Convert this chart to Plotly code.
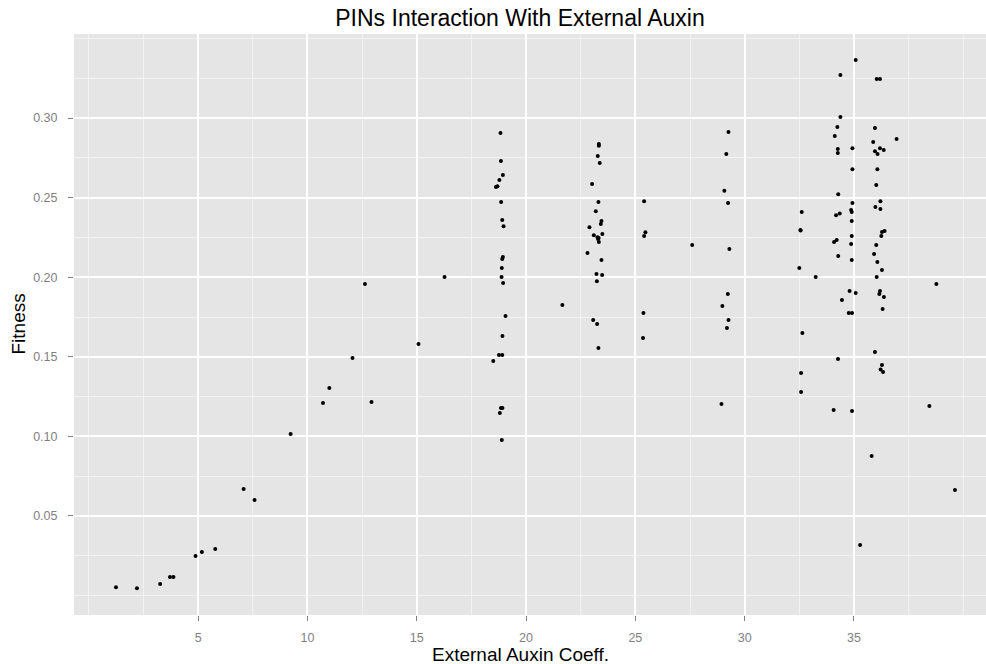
import plotly.graph_objects as go

title_text = "PINs Interaction With External Auxin"
x_title = "External Auxin Coeff."
y_title = "Fitness"

x_ticks = [5, 10, 15, 20, 25, 30, 35]
y_ticks = [0.05, 0.10, 0.15, 0.20, 0.25, 0.30]
y_tick_labels = ["0.05", "0.10", "0.15", "0.20", "0.25", "0.30"]

coeff = [
    1.24, 2.20, 3.26, 3.71, 3.87, 4.88, 5.17, 5.78, 7.08, 7.58, 9.23, 10.71, 11.0, 12.93,
    12.63, 16.27, 21.66, 15.08, 12.06,
    18.83, 18.85, 18.94, 18.78, 18.62, 18.69, 18.86, 18.91, 18.97, 18.94, 18.91, 18.89,
    18.88, 18.95, 19.06, 18.92, 18.76, 18.91, 18.50, 18.85, 18.92, 18.80, 18.89,
    22.90, 22.81, 23.33, 23.33, 23.28, 23.37, 23.02, 23.31, 23.19, 23.45, 23.42, 23.49,
    23.10, 23.27, 23.32, 23.29, 23.33, 23.45, 23.22, 23.48, 23.24, 23.07, 23.25, 23.31,
    25.40, 25.46, 25.40, 25.37, 25.35, 27.60,
    29.26, 29.16, 29.07, 29.24, 29.30, 29.23, 28.98, 29.26, 29.19, 28.94,
    32.61, 32.55, 32.56, 32.50, 32.64, 32.58, 32.58, 33.25,
    35.08, 34.38, 34.38, 34.24, 34.12, 34.26, 34.26, 34.93, 34.93, 34.28, 34.93, 34.87,
    34.90, 34.35, 34.18, 34.90, 34.90, 34.21, 34.09, 34.87, 34.28, 34.90, 34.80, 35.08,
    34.45, 34.76, 34.91, 34.27, 34.07, 34.91, 35.28,
    36.04, 36.19, 35.96, 35.88, 35.96, 36.19, 36.36, 36.08, 36.07, 36.02, 36.21, 35.98,
    36.21, 36.40, 36.28, 36.25, 36.02, 35.92, 36.07, 36.28, 36.04, 36.19, 36.16, 36.37,
    36.31, 35.96, 36.28, 36.22, 36.33, 35.81, 36.95,
    38.77, 38.45, 39.62,
]

fitness = [
    0.0052, 0.0046, 0.0073, 0.0117, 0.0117, 0.0249, 0.0274, 0.0293, 0.0670, 0.0600, 0.1015, 0.1210, 0.1304, 0.1216,
    0.1957, 0.2001, 0.1825, 0.1580, 0.1492,
    0.2906, 0.2730, 0.2642, 0.2611, 0.2567, 0.2571, 0.2472, 0.2359, 0.2320, 0.2127, 0.2114, 0.2058,
    0.2001, 0.1963, 0.1756, 0.1631, 0.1511, 0.1511, 0.1474, 0.1178, 0.1178, 0.1147, 0.0977,
    0.2314, 0.2152, 0.2837, 0.2826, 0.2761, 0.2717, 0.2585, 0.2473, 0.2415, 0.2353, 0.2334, 0.2271,
    0.2264, 0.2251, 0.2246, 0.2240, 0.2221, 0.2108, 0.2020, 0.2014, 0.1974, 0.1731, 0.1706, 0.1555,
    0.2478, 0.2283, 0.2259, 0.1775, 0.1618, 0.2202,
    0.2912, 0.2774, 0.2544, 0.2466, 0.2177, 0.1894, 0.1819, 0.1731, 0.1681, 0.1204,
    0.2409, 0.2296, 0.2294, 0.2058, 0.1650, 0.1398, 0.1279, 0.2001,
    0.3364, 0.3270, 0.3006, 0.2943, 0.2887, 0.2805, 0.2780, 0.2811, 0.2679, 0.2521, 0.2466, 0.2422,
    0.2409, 0.2401, 0.2389, 0.2353, 0.2259, 0.2234, 0.2221, 0.2208, 0.2133, 0.2108, 0.1913, 0.1901,
    0.1857, 0.1775, 0.1775, 0.1486, 0.1166, 0.1160, 0.0318,
    0.3245, 0.3245, 0.2937, 0.2849, 0.2792, 0.2811, 0.2799, 0.2774, 0.2679, 0.2579, 0.2478, 0.2441,
    0.2428, 0.2290, 0.2284, 0.2259, 0.2202, 0.2146, 0.2095, 0.2045, 0.2001, 0.1913, 0.1894, 0.1876,
    0.1800, 0.1530, 0.1448, 0.1421, 0.1405, 0.0877, 0.2868,
    0.1957, 0.1191, 0.0663,
]

W, H = 986, 664
ML, MR, MT, MB = 74, 0, 34, 49

fig = go.Figure()
fig.add_trace(go.Scatter(
    x=coeff, y=fitness, mode="markers",
    marker=dict(color="black", size=4, line=dict(width=0)),
    hoverinfo="x+y", showlegend=False,
))

font_family = "Liberation Sans, Arial, sans-serif"
cx = (520 - ML) / (W - ML - MR)

fig.update_layout(
    width=W, height=H,
    margin=dict(l=ML, r=MR, t=MT, b=MB, pad=0),
    paper_bgcolor="white",
    plot_bgcolor="#E5E5E5",
    font=dict(family=font_family, color="black"),
    title=dict(text=title_text, font=dict(size=23, color="black", family=font_family),
               x=cx, xref="paper", xanchor="center",
               y=1 - 18 / H, yref="container", yanchor="middle"),
    xaxis=dict(
        range=[-0.68, 41.04], tickmode="array", tickvals=x_ticks,
        ticktext=[str(v) for v in x_ticks],
        showgrid=True, gridcolor="white", gridwidth=1.7,
        zeroline=False, showline=False,
        ticks="outside", ticklen=5, tickcolor="#7F7F7F", tickwidth=1,
        ticklabelstandoff=6,
        tickfont=dict(size=12.5, color="#7F7F7F", family=font_family),
        minor=dict(tickmode="array", tickvals=[i * 2.5 for i in range(0, 17)],
                   showgrid=True, gridcolor="#F2F2F2", gridwidth=0.8, ticks=""),
    ),
    yaxis=dict(
        range=[-0.0122, 0.3528], tickmode="array", tickvals=y_ticks,
        ticktext=y_tick_labels,
        showgrid=True, gridcolor="white", gridwidth=1.7,
        zeroline=False, showline=False,
        ticks="outside", ticklen=5, tickcolor="#7F7F7F", tickwidth=1,
        ticklabelstandoff=8,
        tickfont=dict(size=12.5, color="#7F7F7F", family=font_family),
        minor=dict(tickmode="array", tickvals=[i * 0.025 for i in range(0, 15)],
                   showgrid=True, gridcolor="#F2F2F2", gridwidth=0.8, ticks=""),
    ),
    annotations=[
        dict(text=x_title, xref="paper", yref="paper",
             x=cx, y=-(654 - (H - MB)) / (H - MT - MB),
             xanchor="center", yanchor="middle", showarrow=False,
             font=dict(size=19, color="black", family=font_family)),
        dict(text=y_title, xref="paper", yref="paper",
             x=-(ML - 18) / (W - ML - MR), y=0.5, textangle=-90,
             xanchor="center", yanchor="middle", showarrow=False,
             font=dict(size=19, color="black", family=font_family)),
    ],
)

fig.write_html("out.html")
